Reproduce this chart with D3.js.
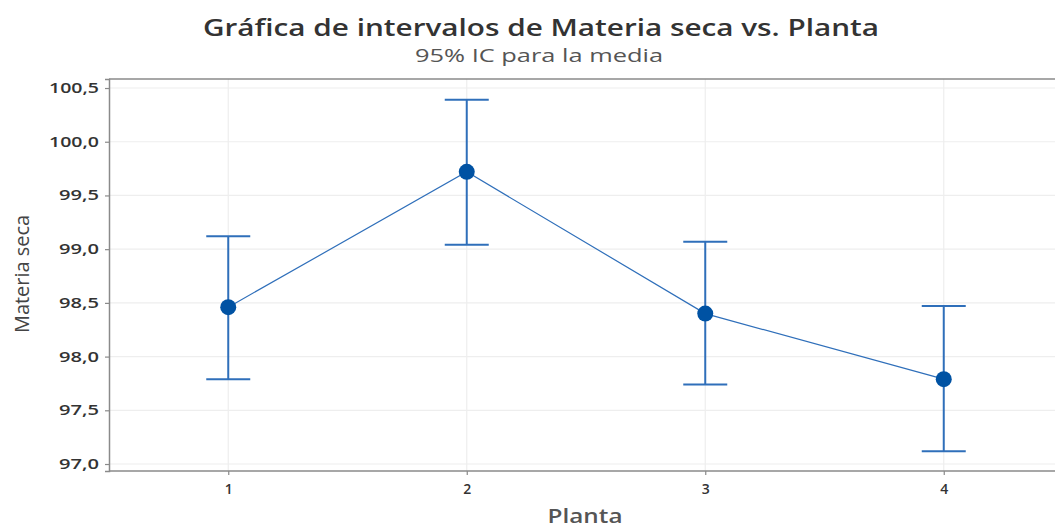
<!DOCTYPE html>
<html>
<head>
<meta charset="utf-8">
<script src="https://cdn.jsdelivr.net/npm/d3@7"></script>
<style>
  body { margin: 0; background: #fff; }
  text { font-family: "Open Sans", "Noto Sans", sans-serif; }
</style>
</head>
<body>
<svg id="chart" width="1055" height="529"></svg>
<script>
// data
const plantas = [1, 2, 3, 4];
const medias = [98.46, 99.72, 98.40, 97.79];
const limSup = [99.12, 100.39, 99.07, 98.47];
const limInf = [97.79, 99.04, 97.74, 97.12];
const yTicks = [97.0, 97.5, 98.0, 98.5, 99.0, 99.5, 100.0, 100.5];

const svg = d3.select('#chart');
const margin = { top: 79, left: 109, bottom: 58 };
const height = +svg.attr('height');

const x = d3.scaleLinear().domain([0.5, 4.5]).range([margin.left, margin.left + 954]);
const y = d3.scaleLinear().domain([96.935, 100.584]).range([height - margin.bottom, margin.top]);

const fmt = d => d3.format('.1f')(d).replace('.', ',');
const azul = '#2f6fba';
const azulPunto = '#0052a3';

// gridlines
svg.append('g').selectAll('line.gy')
  .data(yTicks).enter().append('line')
  .attr('x1', x(0.5)).attr('x2', 1055)
  .attr('y1', d => y(d)).attr('y2', d => y(d))
  .attr('stroke', '#eeeeee').attr('stroke-width', 1.2);
svg.append('g').selectAll('line.gx')
  .data(plantas).enter().append('line')
  .attr('x1', d => x(d)).attr('x2', d => x(d))
  .attr('y1', y.range()[1]).attr('y2', y.range()[0])
  .attr('stroke', '#eeeeee').attr('stroke-width', 1.2);

// frame top
svg.append('line')
  .attr('x1', x(0.5)).attr('x2', 1055)
  .attr('y1', margin.top).attr('y2', margin.top)
  .attr('stroke', '#8a8a8a').attr('stroke-width', 1.5);

// axes
const yAxis = svg.append('g')
  .attr('transform', `translate(${x(0.5)},0)`)
  .call(d3.axisLeft(y).tickValues(yTicks).tickFormat(fmt).tickSize(4).tickPadding(6));
const xAxis = svg.append('g')
  .attr('transform', `translate(0,${y.range()[0]})`)
  .call(d3.axisBottom(x).tickValues(plantas).tickFormat(d3.format('d')).tickSize(4).tickPadding(9));

[yAxis, xAxis].forEach(g => {
  g.select('.domain').attr('stroke', '#8a8a8a').attr('stroke-width', 1.5);
  g.selectAll('.tick line').attr('stroke', '#8a8a8a').attr('stroke-width', 1.2);
  g.selectAll('.tick text')
    .attr('fill', '#333')
    .style('font-size', '14px')
    .style('font-weight', '600')
    .style('font-family', '"Open Sans", sans-serif');
});
// tick labels look horizontally stretched in the picture
yAxis.selectAll('.tick text')
  .attr('textLength', d => fmt(d).length * 10)
  .attr('lengthAdjust', 'spacingAndGlyphs');
xAxis.select('.domain').attr('d', `M${x(0.5)},0H1055`);

// connecting line of means
const linea = d3.line().x((d, i) => x(plantas[i])).y(d => y(d));
svg.append('path')
  .datum(medias)
  .attr('d', linea)
  .attr('fill', 'none')
  .attr('stroke', azul)
  .attr('stroke-width', 1.2);

// error bars
const barras = svg.append('g').selectAll('g')
  .data(plantas).enter().append('g');
barras.append('line')
  .attr('x1', d => x(d)).attr('x2', d => x(d))
  .attr('y1', (d, i) => y(limSup[i])).attr('y2', (d, i) => y(limInf[i]))
  .attr('stroke', azul).attr('stroke-width', 2);
barras.append('line')
  .attr('x1', d => x(d) - 22).attr('x2', d => x(d) + 22)
  .attr('y1', (d, i) => y(limSup[i])).attr('y2', (d, i) => y(limSup[i]))
  .attr('stroke', azul).attr('stroke-width', 2);
barras.append('line')
  .attr('x1', d => x(d) - 22).attr('x2', d => x(d) + 22)
  .attr('y1', (d, i) => y(limInf[i])).attr('y2', (d, i) => y(limInf[i]))
  .attr('stroke', azul).attr('stroke-width', 2);
barras.append('circle')
  .attr('cx', d => x(d))
  .attr('cy', (d, i) => y(medias[i]))
  .attr('r', 8)
  .attr('fill', azulPunto);

// titles
svg.append('text')
  .attr('x', 541).attr('y', 36)
  .attr('text-anchor', 'middle')
  .attr('textLength', 676).attr('lengthAdjust', 'spacingAndGlyphs')
  .style('font-size', '23px').style('font-weight', '600')
  .attr('fill', '#333')
  .text('Gráfica de intervalos de Materia seca vs. Planta');
svg.append('text')
  .attr('x', 539).attr('y', 62)
  .attr('text-anchor', 'middle')
  .attr('textLength', 248).attr('lengthAdjust', 'spacingAndGlyphs')
  .style('font-size', '18px')
  .attr('fill', '#555')
  .text('95% IC para la media');

// axis labels
svg.append('text')
  .attr('x', 585).attr('y', 523)
  .attr('text-anchor', 'middle')
  .attr('textLength', 75).attr('lengthAdjust', 'spacingAndGlyphs')
  .style('font-size', '19px').style('font-weight', '600')
  .attr('fill', '#555')
  .text('Planta');
svg.append('text')
  .attr('transform', 'translate(29,274) rotate(-90)')
  .attr('text-anchor', 'middle')
  .attr('textLength', 118).attr('lengthAdjust', 'spacingAndGlyphs')
  .style('font-size', '20px')
  .attr('fill', '#444')
  .text('Materia seca');
</script>
</body>
</html>
